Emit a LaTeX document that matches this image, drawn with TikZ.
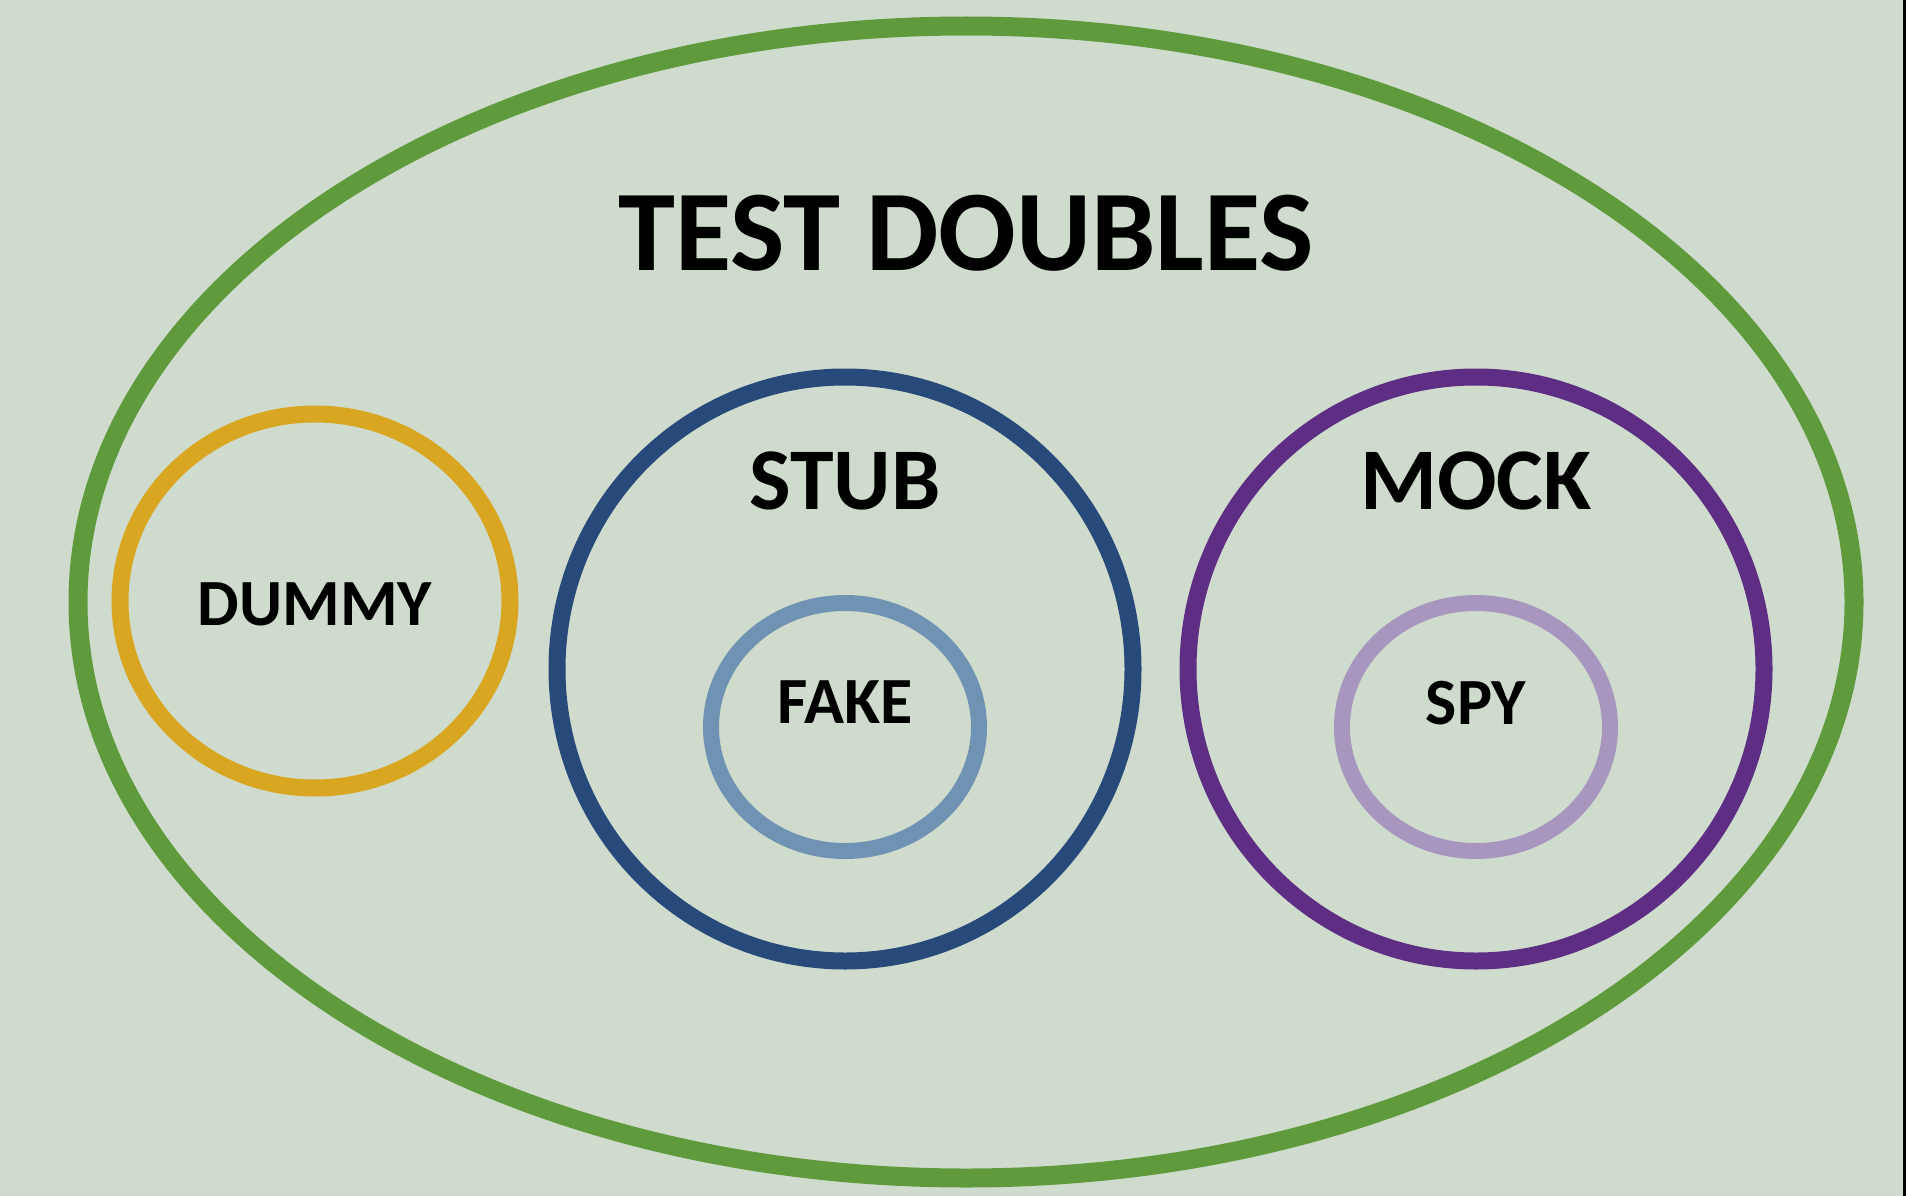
\documentclass[tikz,border=0pt]{standalone}
\usepackage{fontspec}
\setmainfont{Carlito}
\usepackage{tikz}
\usetikzlibrary{shapes.geometric, positioning}
\definecolor{paper}{HTML}{CFDCCD}
\definecolor{outergreen}{HTML}{5F9B3D}
\definecolor{dummygold}{HTML}{D9A622}
\definecolor{stubblue}{HTML}{284A7A}
\definecolor{fakeblue}{HTML}{7193B3}
\definecolor{mockpurple}{HTML}{5E2D84}
\definecolor{spylilac}{HTML}{A797BF}

\begin{document}
\begin{tikzpicture}[
    x=1pt, y=-1pt,
    every node/.style={font=\bfseries, text=black},
    ring/.style={ellipse, draw, inner sep=0pt, outer sep=0pt, line width=17pt},
    bigtitle/.style={font=\bfseries\fontsize{115}{115}\selectfont, anchor=base},
    biglabel/.style={font=\bfseries\fontsize{88}{88}\selectfont, anchor=base},
    smalllabel/.style={font=\bfseries\fontsize{66}{66}\selectfont, anchor=base}
]

% Canvas
\fill[paper] (0,0) rectangle (1906,1196);
\useasboundingbox (0,0) rectangle (1906,1196);
\fill[black] (1903,0) rectangle (1906,1196);

% Rings
\node[ring, draw=outergreen, line width=19pt,
      minimum width=1776pt, minimum height=1152pt] (outer) at (966,602) {};
\node[ring, draw=dummygold, minimum width=390pt, minimum height=374pt] (dummy) at (315,601) {};
\node[ring, draw=stubblue, minimum width=576pt, minimum height=584pt] (stub) at (845,669) {};
\node[ring, draw=fakeblue, line width=16pt,
      minimum width=268pt, minimum height=248pt] (fake) at (845,727) {};
\node[ring, draw=mockpurple, minimum width=576pt, minimum height=584pt] (mock) at (1476,669) {};
\node[ring, draw=spylilac, line width=16pt,
      minimum width=268pt, minimum height=248pt] (spy) at (1476,727) {};

% Labels
\node[bigtitle] (title) at ([yshift=-244pt]outer.north) {TEST DOUBLES};
\node[smalllabel] (dummytext) at ([yshift=-24pt]dummy.center) {DUMMY};
\node[biglabel] (stubtext) at ([yshift=-132pt]stub.north) {STUB};
\node[biglabel] (mocktext) at ([yshift=-132pt]mock.north) {MOCK};
\node[smalllabel] (faketext) at ([yshift=4pt]fake.center) {FAKE};
\node[smalllabel] (spytext) at ([yshift=3pt]spy.center) {SPY};

\end{tikzpicture}
\end{document}
